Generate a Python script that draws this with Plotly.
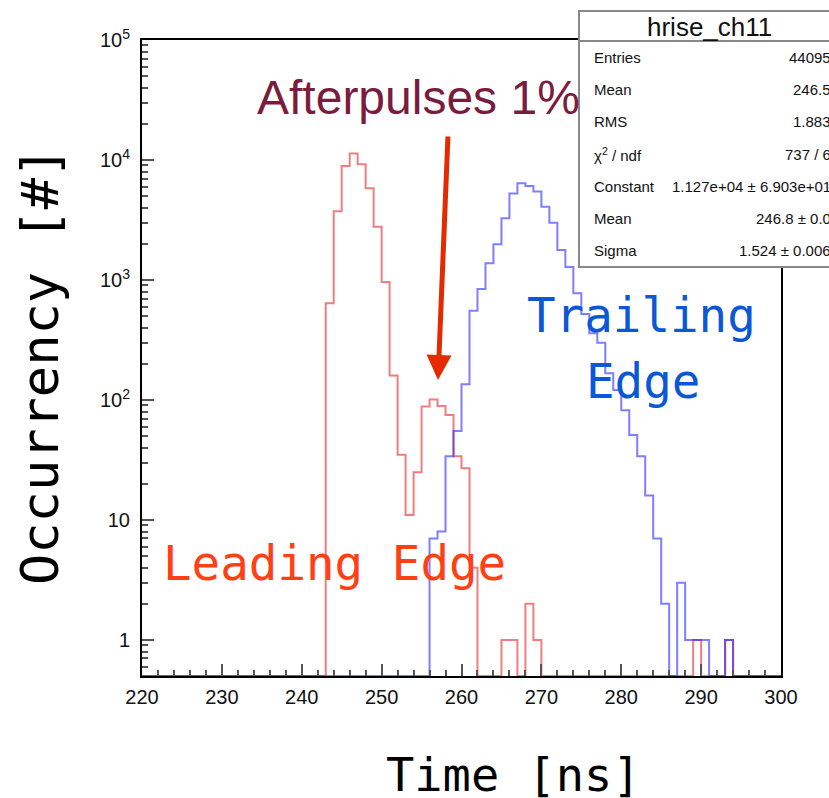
import numpy as np
import plotly.graph_objects as go

# ---------------- data ----------------
bin_edges_ns = list(range(220, 301))          # 1 ns bins, 220 .. 300

lead_bins = [243, 244, 245, 246, 247, 248, 249, 250, 251, 252, 253, 254, 255,
             256, 257, 258, 259, 260, 261, 265, 266, 268, 269, 289, 293]
lead_counts = [640, 3740, 8900, 11300, 9200, 5800, 2770, 960, 160, 35, 11, 25, 88,
               101, 89, 75, 34, 27, 4, 1, 1, 2, 1, 1, 1]

trail_bins = [256, 257, 258, 259, 260, 261, 262, 263, 264, 265, 266, 267, 268,
              269, 270, 271, 272, 273, 274, 275, 276, 277, 278, 279, 280, 281,
              282, 283, 284, 285, 287, 288, 289, 290, 293]
trail_counts = [7, 8, 34, 55, 135, 555, 840, 1380, 1980, 3270, 5250, 6400, 6060,
                5450, 4080, 3000, 1780, 1280, 775, 520, 360, 300, 167, 121, 82, 51,
                34, 16, 7, 2, 3, 1, 1, 1, 1]

stats_title = "hrise_ch11"
stats_labels = ["Entries", "Mean", "RMS", "χ<sup>2</sup> / ndf", "Constant", "Mean", "Sigma"]
stats_values = ["44095", "246.5", "1.883", "737 / 6", "1.127e+04 ± 6.903e+01",
                "246.8 ± 0.0", "1.524 ± 0.006"]

y_tickvals = [1, 10, 100, 1000, 10000, 100000]
y_ticktext = ["1", "10", "10<sup>2</sup>", "10<sup>3</sup>", "10<sup>4</sup>", "10<sup>5</sup>"]

# ---------------- build step histograms ----------------
Y_MIN = 0.5
edges = np.array(bin_edges_ns, dtype=float)


def full_counts(bins, counts):
    arr = np.zeros(len(edges) - 1)
    for b, c in zip(bins, counts):
        arr[b - bin_edges_ns[0]] = c
    return arr


def step_y(arr):
    y = np.where(arr > 0, arr, Y_MIN)
    return np.append(y, y[-1])


lead_full = full_counts(lead_bins, lead_counts)
trail_full = full_counts(trail_bins, trail_counts)

fig = go.Figure()
fig.add_trace(go.Scatter(x=edges, y=step_y(lead_full), mode="lines",
                         line=dict(shape="hv", color="rgba(232,40,40,0.6)", width=2),
                         name="Leading Edge", showlegend=False))
fig.add_trace(go.Scatter(x=edges, y=step_y(trail_full), mode="lines",
                         line=dict(shape="hv", color="rgba(40,40,255,0.6)", width=2),
                         name="Trailing Edge", showlegend=False))

# ---------------- layout helpers (page pixel -> paper) ----------------
W, H = 829, 798
L, R, T, B = 142, 781, 40, 676   # plot area in page pixels


def px(x):
    return (x - L) / (R - L)


def py(y):
    return (B - y) / (B - T)


minor_y = [m * 10 ** d for d in range(-1, 5) for m in range(2, 10) if 0.5 <= m * 10 ** d <= 1e5]

sans = "Liberation Sans, Arial, sans-serif"
mono = "DejaVu Sans Mono, monospace"

fig.update_layout(
    width=W, height=H,
    margin=dict(l=L, r=W - R, t=T, b=H - B, pad=0),
    paper_bgcolor="white", plot_bgcolor="white",
    font=dict(family=sans, color="#111"),
    xaxis=dict(range=[220, 300], tick0=220, dtick=10, ticks="inside", ticklen=12,
               tickwidth=1.5, tickcolor="#555", showgrid=False, zeroline=False,
               showline=True, linecolor="black", linewidth=2, mirror=True,
               tickfont=dict(size=20, family=sans, color="#111"),
               minor=dict(dtick=2, tick0=220, ticks="inside", ticklen=6, tickwidth=1.5,
                          tickcolor="#555", showgrid=False),
               ticklabelstandoff=2),
    yaxis=dict(type="log", range=[np.log10(Y_MIN), 5], tickmode="array",
               tickvals=y_tickvals, ticktext=y_ticktext, ticks="inside", ticklen=12,
               tickwidth=1.5, tickcolor="#555", showgrid=False, zeroline=False,
               showline=True, linecolor="black", linewidth=2, mirror=True,
               tickfont=dict(size=20, family=sans, color="#111"),
               minor=dict(tickmode="array", tickvals=minor_y, ticks="inside", ticklen=6,
                          tickwidth=1.5, tickcolor="#555", showgrid=False),
               ticklabelstandoff=6),
)

ann = []
ann.append(dict(text="Afterpulses 1%", x=px(255), y=py(97), xref="paper", yref="paper",
                xanchor="left", yanchor="middle", showarrow=False,
                font=dict(family=sans, size=48, color="#7b1c3f")))
ann.append(dict(text="Leading Edge", x=px(161), y=py(563), xref="paper", yref="paper",
                xanchor="left", yanchor="middle", showarrow=False,
                font=dict(family=mono, size=47.5, color="#ff4015")))
ann.append(dict(text="Trailing", x=px(641), y=py(315), xref="paper", yref="paper",
                xanchor="center", yanchor="middle", showarrow=False,
                font=dict(family=mono, size=47.5, color="#0a58d6")))
ann.append(dict(text="Edge", x=px(643), y=py(381), xref="paper", yref="paper",
                xanchor="center", yanchor="middle", showarrow=False,
                font=dict(family=mono, size=47.5, color="#0a58d6")))
ann.append(dict(text="Time [ns]", x=px(384), y=py(774), xref="paper", yref="paper",
                xanchor="left", yanchor="middle", showarrow=False,
                font=dict(family=mono, size=47, color="black")))
ann.append(dict(text="Occurrency [#]", x=px(40), y=py(366), xref="paper", yref="paper",
                xanchor="center", yanchor="middle", showarrow=False, textangle=-90,
                font=dict(family=mono, size=52, color="black")))
# arrow pointing to the afterpulse bump
ann.append(dict(text="", x=px(438), y=py(380), xref="paper", yref="paper",
                ax=10, ay=-245, axref="pixel", ayref="pixel", showarrow=True,
                arrowhead=2, arrowsize=1.0, arrowwidth=5, arrowcolor="#e32a00",
                standoff=0, startstandoff=0))

# stats box
ann.append(dict(text=stats_title, x=px(709), y=py(27), xref="paper", yref="paper",
                xanchor="center", yanchor="middle", showarrow=False,
                font=dict(family=sans, size=26, color="#111")))
for i, (lab, val) in enumerate(zip(stats_labels, stats_values)):
    yc = 57.5 + 32.2 * i
    ann.append(dict(text=lab, x=px(592), y=py(yc), xref="paper", yref="paper",
                    xanchor="left", yanchor="middle", showarrow=False,
                    font=dict(family=sans, size=15, color="#111")))
    ann.append(dict(text=val, x=px(833), y=py(yc), xref="paper", yref="paper",
                    xanchor="right", yanchor="middle", showarrow=False,
                    font=dict(family=sans, size=15, color="#111")))
fig.update_layout(annotations=ann)

fig.update_layout(shapes=[
    dict(type="rect", xref="paper", yref="paper", x0=px(579), x1=px(850),
         y0=py(267), y1=py(11), fillcolor="white", line=dict(color="#888", width=2),
         layer="above"),
    dict(type="line", xref="paper", yref="paper", x0=px(579), x1=px(850),
         y0=py(41), y1=py(41), line=dict(color="#888", width=2), layer="above"),
])

fig.write_html(
    "out.html",
    config={"displayModeBar": False},
    post_script=("document.body.style.margin='0';"
                 "document.body.style.overflow='hidden';"
                 "document.documentElement.style.overflow='hidden';"),
)
